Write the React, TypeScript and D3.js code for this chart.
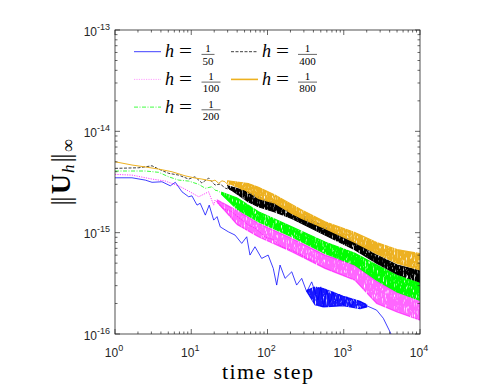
import React from "react";
import * as d3 from "d3";

const W = 499;
const H = 388;

// time steps and sup-norm values
const blueX = [1, 1.67, 2.5, 3.06, 4.13, 5.31, 6.18, 7.56, 9.26, 10.2, 11.9, 13.1, 15.3, 17.2, 19.7, 21.8, 24, 30.6, 37.5, 45.9, 53.4, 58.9, 68.5, 83.9, 102, 119, 132, 146, 170, 208, 241, 281, 327, 380, 420, 460, 500, 540, 600, 660, 720, 800, 880, 986, 1100, 1250, 1400, 1630, 2000, 2700, 3300, 4040, 4600];
const blueY = [3.48e-15, 3.48e-15, 3.3e-15, 3.14e-15, 3.18e-15, 2.9e-15, 3.14e-15, 2.53e-15, 2.26e-15, 2.31e-15, 1.87e-15, 1.95e-15, 1.49e-15, 1.87e-15, 1.33e-15, 1.44e-15, 1.14e-15, 1.02e-15, 9.47e-16, 7.84e-16, 9.11e-16, 6.01e-16, 7.26e-16, 5.57e-16, 6.01e-16, 4.44e-16, 3.04e-16, 4.79e-16, 3.54e-16, 4.11e-16, 3.04e-16, 3.54e-16, 2.61e-16, 3.27e-16, 2.61e-16, 2.16e-16, 2.92e-16, 1.86e-16, 2.71e-16, 2.0e-16, 2.61e-16, 2.0e-16, 2.46e-16, 1.93e-16, 2.33e-16, 1.86e-16, 2.16e-16, 1.8e-16, 1.9e-16, 1.72e-16, 1.43e-16, 1.05e-16, 8.5e-17];
const blueBandX = [330, 420, 540, 986, 1633, 2000];
const blueBandHi = [2.7e-16, 2.9e-16, 2.8e-16, 2.35e-16, 2.1e-16, 1.95e-16];
const blueBandLo = [2.6e-16, 1.95e-16, 1.85e-16, 1.9e-16, 1.78e-16, 1.85e-16];

const magX = [1, 1.67, 3.06, 4.57, 6.84, 9.26, 12.5, 16.9, 19.7, 20.5, 25.3, 33.9, 40, 56, 70, 92.7, 120, 153, 200, 254, 330, 420];
const magY = [3.76e-15, 3.7e-15, 3.38e-15, 3.23e-15, 2.9e-15, 2.57e-15, 2.26e-15, 2.53e-15, 1.87e-15, 2.1e-15, 1.75e-15, 1.61e-15, 1.45e-15, 1.19e-15, 1.1e-15, 9.11e-16, 8.5e-16, 7.26e-16, 6.8e-16, 6.25e-16, 5.6e-16, 5.16e-16];
const magBandX = [22, 40, 76, 208, 568, 1400, 2705, 5000, 10000];
const magBandHi = [2.1e-15, 1.65e-15, 1.24e-15, 8.78e-16, 6.01e-16, 4.79e-16, 3.3e-16, 2.6e-16, 2.2e-16];
const magBandLo = [2.0e-15, 1.2e-15, 9.11e-16, 6.48e-16, 4.44e-16, 3.4e-16, 2.0e-16, 1.65e-16, 1.37e-16];

const greenX = [1, 2.5, 3.74, 5.06, 6.84, 9.26, 12.5, 15.3, 18.7, 20.5, 22.9, 27, 33.9, 40, 56, 70, 92.7, 120, 153, 200, 254, 330, 420];
const greenY = [4.06e-15, 4.06e-15, 3.94e-15, 3.56e-15, 3.3e-15, 3.23e-15, 3.0e-15, 2.74e-15, 2.84e-15, 2.63e-15, 2.57e-15, 2.3e-15, 2.02e-15, 1.9e-15, 1.55e-15, 1.45e-15, 1.24e-15, 1.15e-15, 1.02e-15, 9.8e-16, 9.11e-16, 8.0e-16, 7.55e-16];
const greenBandX = [25, 40, 76, 208, 568, 1400, 2705, 5000, 10000];
const greenBandHi = [2.5e-15, 2.2e-15, 1.61e-15, 1.14e-15, 8.1e-16, 6.25e-16, 4.8e-16, 3.8e-16, 3.2e-16];
const greenBandLo = [2.4e-15, 1.7e-15, 1.28e-15, 9.11e-16, 6.25e-16, 4.79e-16, 3.4e-16, 2.6e-16, 2.15e-16];

const blackX = [1, 2.05, 3.06, 3.74, 5.06, 6.84, 9.26, 11.2, 13.8, 16.9, 20.5, 24, 28, 33.9, 40, 47, 56, 70, 92.7, 120, 153, 200, 254, 330, 420];
const blackY = [4.31e-15, 4.37e-15, 4.57e-15, 4.24e-15, 3.85e-15, 3.7e-15, 3.38e-15, 3.56e-15, 3.09e-15, 3.46e-15, 2.95e-15, 3.02e-15, 2.75e-15, 2.63e-15, 2.7e-15, 2.4e-15, 2.26e-15, 2.1e-15, 1.8e-15, 1.75e-15, 1.61e-15, 1.5e-15, 1.33e-15, 1.22e-15, 1.1e-15];
const blackBandX = [30, 56, 76, 125, 208, 568, 1400, 2705, 5000, 10000];
const blackBandHi = [2.9e-15, 2.53e-15, 2.26e-15, 1.95e-15, 1.67e-15, 1.14e-15, 8.0e-16, 6.0e-16, 4.8e-16, 4.2e-16];
const blackBandLo = [2.8e-15, 2.02e-15, 1.8e-15, 1.6e-15, 1.38e-15, 9.47e-16, 6.8e-16, 5.0e-16, 3.9e-16, 3.25e-16];

const orangeX = [1, 1.67, 2.5, 3.74, 5.6, 8.28, 11.2, 13.8, 18.7, 20.5, 22.9, 25.3, 27.7, 30.6, 33.9, 37.5, 41, 45.9, 50, 56, 65, 78, 92.7, 102, 125, 153, 200, 254, 330, 420];
const orangeY = [5.01e-15, 4.65e-15, 4.45e-15, 4.24e-15, 3.99e-15, 3.64e-15, 3.46e-15, 3.38e-15, 3.23e-15, 3.3e-15, 3.07e-15, 3.25e-15, 3.18e-15, 2.95e-15, 3.1e-15, 2.84e-15, 2.95e-15, 2.63e-15, 2.74e-15, 2.44e-15, 2.55e-15, 2.3e-15, 2.35e-15, 2.18e-15, 2.1e-15, 1.87e-15, 1.75e-15, 1.49e-15, 1.4e-15, 1.25e-15];
const orangeBandX = [30, 56, 76, 125, 208, 281, 568, 1400, 2705, 5000, 10000];
const orangeBandHi = [3.25e-15, 3.05e-15, 2.8e-15, 2.35e-15, 1.9e-15, 1.67e-15, 1.28e-15, 1.0e-15, 8.0e-16, 6.8e-16, 6.2e-16];
const orangeBandLo = [3.1e-15, 2.55e-15, 2.18e-15, 1.95e-15, 1.55e-15, 1.38e-15, 1.1e-15, 8.0e-16, 6.2e-16, 5.0e-16, 4.3e-16];

const denominators = ["50", "100", "200", "400", "800"];

const series = [
  { x: blueX, y: blueY, bx: blueBandX, hi: blueBandHi, lo: blueBandLo, color: "#0000ff", dash: "none", op: 0.9 },
  { x: magX, y: magY, bx: magBandX, hi: magBandHi, lo: magBandLo, color: "#ff00ff", dash: "1.2 1.2", op: 0.6 },
  { x: greenX, y: greenY, bx: greenBandX, hi: greenBandHi, lo: greenBandLo, color: "#00ff00", dash: "4 1.5 1 1.5", op: 1 },
  { x: blackX, y: blackY, bx: blackBandX, hi: blackBandHi, lo: blackBandLo, color: "#000000", dash: "3 1.5", op: 1 },
  { x: orangeX, y: orangeY, bx: orangeBandX, hi: orangeBandHi, lo: orangeBandLo, color: "#EDB120", dash: "none", op: 1 },
];

const axisColor = "#262626";
const sans = "'Liberation Sans', Arial, sans-serif";
const serif = "'Liberation Serif', 'Times New Roman', serif";

export default function App() {
  const left = 115, right = 420, top = 30, bottom = 334;
  const x = d3.scaleLog().domain([1, 1e4]).range([left, right]);
  const y = d3.scaleLog().domain([1e-16, 1e-13]).range([bottom, top]);

  const line = d3.line<[number, number]>().x(d => x(d[0])).y(d => y(d[1]));
  const area = d3.area<[number, number, number]>().x(d => x(d[0])).y0(d => y(d[1])).y1(d => y(d[2]));

  const isMajor = (t: number) => Math.abs(Math.log10(t) - Math.round(Math.log10(t))) < 1e-6;
  const xTicks = x.ticks();
  const yTicks = y.ticks();

  return (
    <svg width={W} height={H} style={{ position: "absolute", left: 0, top: 0, background: "#fff" }}>
      <defs>
        <clipPath id="plot">
          <rect x={left} y={top} width={right - left} height={bottom - top} />
        </clipPath>
        {/* speckle so the dense noisy traces don't read as flat ribbons */}
        <filter id="grain" x="-5%" y="-20%" width="110%" height="140%">
          <feTurbulence type="fractalNoise" baseFrequency="1.1 0.2" numOctaves={2} seed={4} result="n" />
          <feColorMatrix in="n" type="matrix" values="0 0 0 0 0  0 0 0 0 0  0 0 0 0 0  4 0 0 0 -0.65" result="a" />
          <feComposite in="SourceGraphic" in2="a" operator="in" />
        </filter>
      </defs>
      <rect x={0} y={0} width={W} height={H} fill="#fff" />

      <g clipPath="url(#plot)">
        {series.map((s, i) => (
          <g key={i}>
            <path
              d={area(s.bx.map((v, j) => [v, s.lo[j], s.hi[j]] as [number, number, number])) || ""}
              fill={s.color}
              fillOpacity={s.op}
              stroke={s.color}
              strokeWidth={1.2}
              strokeOpacity={s.op}
              filter="url(#grain)"
            />
            <path
              d={line(s.x.map((v, j) => [v, s.y[j]] as [number, number])) || ""}
              fill="none"
              stroke={s.color}
              strokeWidth={i === 4 ? 1 : 0.75}
              strokeDasharray={s.dash}
            />
          </g>
        ))}
      </g>

      {/* box */}
      <rect x={left} y={top} width={right - left} height={bottom - top} fill="none" stroke={axisColor} strokeWidth={0.8} />

      {/* x ticks */}
      {xTicks.map((t, i) => {
        const len = isMajor(t) ? 5 : 2.5;
        const px = x(t);
        return (
          <g key={"xt" + i} stroke={axisColor} strokeWidth={0.7}>
            <line x1={px} x2={px} y1={bottom} y2={bottom - len} />
            <line x1={px} x2={px} y1={top} y2={top + len} />
          </g>
        );
      })}
      {/* y ticks */}
      {yTicks.map((t, i) => {
        const len = isMajor(t) ? 5 : 2.5;
        const py = y(t);
        return (
          <g key={"yt" + i} stroke={axisColor} strokeWidth={0.7}>
            <line x1={left} x2={left + len} y1={py} y2={py} />
            <line x1={right} x2={right - len} y1={py} y2={py} />
          </g>
        );
      })}

      {/* x tick labels */}
      {xTicks.filter(isMajor).map((t, i) => (
        <text key={"xl" + i} x={x(t) - 1} y={357} textAnchor="middle" fontFamily={sans} fontSize={12} fill={axisColor}>
          10<tspan fontSize={9} dy={-6}>{Math.round(Math.log10(t))}</tspan>
        </text>
      ))}
      {/* y tick labels */}
      {yTicks.filter(isMajor).map((t, i) => (
        <text key={"yl" + i} x={110} y={y(t) + 5.5} textAnchor="end" fontFamily={sans} fontSize={12} fill={axisColor}>
          10<tspan fontSize={9} dy={-6}>{Math.round(Math.log10(t))}</tspan>
        </text>
      ))}

      {/* axis titles */}
      <text x={267.5} y={379} textAnchor="middle" fontFamily={serif} fontSize={22} textLength={91} lengthAdjust="spacing" fill="#000">
        time step
      </text>
      <text transform="translate(70,172.5) rotate(-90)" textAnchor="middle" fontFamily={serif} fontSize={27} fill="#000">
        <tspan>|</tspan>
        <tspan dx={-1.5}>|</tspan>
        <tspan fontWeight="bold" fontSize={28} dx={2}>U</tspan>
        <tspan fontStyle="italic" fontSize={17} dy={4} dx={1}>h</tspan>
        <tspan dy={-4} dx={2}>|</tspan>
        <tspan dx={-1.5}>|</tspan>
        <tspan fontSize={18} dy={4} dx={1}>∞</tspan>
      </text>

      {/* legend */}
      {series.map((s, i) => {
        const col = i < 3 ? 0 : 1;
        const row = i < 3 ? i : i - 3;
        const ry = 51.7 + row * 27.7;
        const lx = col === 0 ? 134 : 231;
        const hx = col === 0 ? 165 : 262;
        const fx = col === 0 ? 201.5 : 298;
        const den = denominators[i];
        const fw = den.length * 6 + 1;
        return (
          <g key={"lg" + i}>
            <line x1={lx} x2={lx + 27} y1={ry} y2={ry} stroke={s.color} strokeWidth={i === 4 ? 1.6 : 0.75} strokeDasharray={s.dash} strokeOpacity={i === 1 ? 0.5 : 1} />
            <text x={hx} y={ry + 5.5} fontFamily={serif} fontSize={18} fontStyle="italic" fill="#000">h</text>
            <text x={hx + 14} y={ry + 5.5} fontFamily={serif} fontSize={18} fill="#000" textLength={13} lengthAdjust="spacingAndGlyphs">=</text>
            <text x={fx + fw / 2} y={ry + 0.5} textAnchor="middle" fontFamily={serif} fontSize={11} fill="#000">1</text>
            <line x1={fx} x2={fx + fw} y1={ry + 2.7} y2={ry + 2.7} stroke="#000" strokeWidth={0.6} />
            <text x={fx + fw / 2} y={ry + 12.8} textAnchor="middle" fontFamily={serif} fontSize={11} fill="#000">{den}</text>
          </g>
        );
      })}
    </svg>
  );
}
